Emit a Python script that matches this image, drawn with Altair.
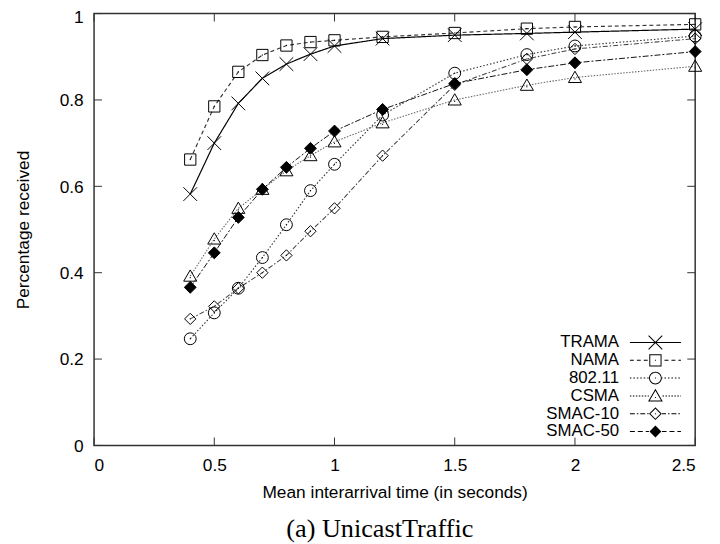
import math
import altair as alt
import pandas as pd

# ---------------- data ----------------
series = ["TRAMA", "NAMA", "802.11", "CSMA", "SMAC-10", "SMAC-50"]
x_vals = [0.4, 0.5, 0.6, 0.7, 0.8, 0.9, 1.0, 1.2, 1.5, 1.8, 2.0, 2.5]

trama = [0.582, 0.700, 0.792, 0.850, 0.883, 0.906, 0.925, 0.942, 0.950, 0.954, 0.957, 0.964]
nama = [0.662, 0.785, 0.865, 0.904, 0.926, 0.934, 0.938, 0.946, 0.955, 0.965, 0.969, 0.975]
ieee = [0.247, 0.307, 0.364, 0.435, 0.511, 0.590, 0.651, 0.765, 0.862, 0.905, 0.925, 0.948]
csma = [0.392, 0.478, 0.549, 0.593, 0.636, 0.671, 0.703, 0.747, 0.800, 0.834, 0.852, 0.878]
smac10 = [0.293, 0.322, 0.364, 0.400, 0.440, 0.496, 0.549, 0.671, 0.835, 0.895, 0.918, 0.942]
smac50 = [0.366, 0.446, 0.528, 0.593, 0.644, 0.688, 0.728, 0.778, 0.838, 0.870, 0.886, 0.912]

x_ticks = [0, 0.5, 1, 1.5, 2, 2.5]
y_ticks = [0, 0.2, 0.4, 0.6, 0.8, 1.0]

x_title = "Mean interarrival time (in seconds)"
y_title = "Percentage received"
caption = "(a) UnicastTraffic"

values = [trama, nama, ieee, csma, smac10, smac50]
rows = []
for s, vals in zip(series, values):
    for xv, yv in zip(x_vals, vals):
        rows.append({"series": s, "x": xv, "y": yv})
df = pd.DataFrame(rows)
xt = pd.DataFrame({"t": x_ticks})
yt = pd.DataFrame({"t": y_ticks})

# ---------------- marker styles (symbol paths, unit box) ----------------
DOT = "M0,-0.1V0.1"
marker_paths = [
    "M-1.15,-1.15L1.15,1.15M-1.15,1.15L1.15,-1.15",
    "M-0.95,-0.95H0.95V0.95H-0.95Z" + DOT,
    "M1,0A1,1,0,1,1,-1,0A1,1,0,1,1,1,0Z" + DOT,
    "M0,-1.05L1.1,0.85H-1.1Z" + "M0,0.15V0.35",
    "M0,-0.95L0.95,0L0,0.95L-0.95,0Z" + DOT,
    "M0,-1L1,0L0,1L-1,0Z",
]

# legend samples drawn as filled outlines (1px = 1/6 unit)
HT = 0.5 / 6.0


def poly(pts, hole=False):
    area = sum(pts[i][0] * pts[(i + 1) % len(pts)][1] - pts[(i + 1) % len(pts)][0] * pts[i][1]
               for i in range(len(pts)))
    if (area > 0) == hole:
        pts = pts[::-1]
    return "M" + "L".join("%.3f,%.3f" % p for p in pts) + "Z"


def rect(x0, y0, x1, y1):
    return poly([(x0, y0), (x1, y0), (x1, y1), (x0, y1)])


def ring(pts, center, inr):
    cx, cy = center
    ko, ki = 1 + HT / inr, 1 - HT / inr
    outer = [(cx + (x - cx) * ko, cy + (y - cy) * ko) for x, y in pts]
    inner = [(cx + (x - cx) * ki, cy + (y - cy) * ki) for x, y in pts]
    return poly(outer) + poly(inner, hole=True)


def circle_ring(r):
    ro, ri = r + HT, r - HT
    return ("M%.3f,0A%.3f,%.3f,0,1,1,%.3f,0A%.3f,%.3f,0,1,1,%.3f,0Z" % (ro, ro, ro, -ro, ro, ro, ro)
            + "M%.3f,0A%.3f,%.3f,0,1,0,%.3f,0A%.3f,%.3f,0,1,0,%.3f,0Z" % (ri, ri, ri, -ri, ri, ri, ri))


def bar(p1, p2):
    dx, dy = p2[0] - p1[0], p2[1] - p1[1]
    L = math.hypot(dx, dy)
    nx, ny = -dy / L * HT, dx / L * HT
    return poly([(p1[0] + nx, p1[1] + ny), (p2[0] + nx, p2[1] + ny),
                 (p2[0] - nx, p2[1] - ny), (p1[0] - nx, p1[1] - ny)])


dot = rect(-HT, -HT, HT, HT)
tri = [(0, -1.05), (1.1, 0.85), (-1.1, 0.85)]
dia = [(0, -0.95), (0.95, 0), (0, 0.95), (-0.95, 0)]
sq = [(-0.95, -0.95), (0.95, -0.95), (0.95, 0.95), (-0.95, 0.95)]
legend_markers = [
    bar((-1.15, -1.15), (1.15, 1.15)) + bar((-1.15, 1.15), (1.15, -1.15)),
    ring(sq, (0, 0), 0.95) + dot,
    circle_ring(1.0) + dot,
    ring(tri, (0, 0.216), 0.634) + rect(-HT, 0.2, HT, 0.35),
    ring(dia, (0, 0), 0.672) + dot,
    poly([(0, -1), (1, 0), (0, 1), (-1, 0)]),
]
legend_dash = [None, [4, 3], [1.5, 2], [1.5, 1.5], [5, 2, 1.5, 2], [5, 3]]


def dash_rects(pattern, half=4.3, gap=1.1):
    if pattern is None:
        return rect(-half, -HT, half, HT)
    segs = []
    pos = -half
    i = 0
    on = True
    while pos < half:
        seg = pattern[i % len(pattern)] / 6.0
        end = min(pos + seg, half)
        if on:
            for lo, hi in ((pos, min(end, -gap)), (max(pos, gap), end)):
                if hi > lo:
                    segs.append(rect(lo, -HT, hi, HT))
        pos = end
        on = not on
        i += 1
    return "".join(segs)


legend_paths = [m + dash_rects(d) for m, d in zip(legend_markers, legend_dash)]
fill_range = ["transparent"] * 5 + ["black"]
line_dash = [[1, 0], [4, 3], [1.5, 2], [1.5, 1.5], [5, 2, 1.5, 2], [6, 2, 2, 2]]
line_colors = ["#000000", "#333333", "#333333", "#666666", "#444444", "#111111"]
line_widths = [1.2, 1, 1, 1, 1, 1]

X0, X1 = 0, 2.5
Y0, Y1 = 0, 1
W, H = 607.7, 436.6
TLX = 8 / W * (X1 - X0)
TLY = 8 / H * (Y1 - Y0)

xscale = alt.Scale(domain=[X0, X1], nice=False, zero=False)
yscale = alt.Scale(domain=[Y0, Y1], nice=False, zero=False)

xaxis = alt.Axis(values=x_ticks, format="~g", title=x_title, labelPadding=11, titlePadding=10)
yaxis = alt.Axis(
    values=y_ticks, format="~g", title=y_title, labelPadding=11, titlePadding=27,
    labelOffset={"condition": {"test": "datum.value == 1", "value": 4.5}, "value": 1},
)

lines = alt.Chart(df).mark_line(clip=False).encode(
    x=alt.X("x:Q", scale=xscale, axis=xaxis),
    y=alt.Y("y:Q", scale=yscale, axis=yaxis),
    detail="series:N",
    color=alt.Color("series:N", scale=alt.Scale(domain=series, range=line_colors), legend=None),
    strokeDash=alt.StrokeDash("series:N", scale=alt.Scale(domain=series, range=line_dash), legend=None),
    strokeWidth=alt.StrokeWidth("series:N", scale=alt.Scale(domain=series, range=line_widths), legend=None),
)

tick_color = "#333333"
bottom_ticks = alt.Chart(xt).mark_rule(color=tick_color, strokeWidth=1).encode(
    x=alt.X("t:Q", scale=xscale, axis=xaxis), y=alt.datum(Y0), y2=alt.datum(Y0 + TLY)
)
top_ticks = alt.Chart(xt).mark_rule(color=tick_color, strokeWidth=1).encode(
    x=alt.X("t:Q", scale=xscale, axis=xaxis), y=alt.datum(Y1), y2=alt.datum(Y1 - TLY)
)
left_ticks = alt.Chart(yt).mark_rule(color=tick_color, strokeWidth=1).encode(
    y=alt.Y("t:Q", scale=yscale, axis=yaxis), x=alt.datum(X0), x2=alt.datum(X0 + TLX)
)
right_ticks = alt.Chart(yt).mark_rule(color=tick_color, strokeWidth=1).encode(
    y=alt.Y("t:Q", scale=yscale, axis=yaxis), x=alt.datum(X1), x2=alt.datum(X1 - TLX)
)

points = alt.Chart(df).transform_calculate(s2="datum.series").mark_point(
    filled=True, opacity=1, stroke="black", strokeWidth=1, size=144
).encode(
    x=alt.X("x:Q", scale=xscale, axis=xaxis),
    y=alt.Y("y:Q", scale=yscale, axis=yaxis),
    shape=alt.Shape("s2:N", scale=alt.Scale(domain=series, range=marker_paths), legend=None),
    fill=alt.Fill("s2:N", scale=alt.Scale(domain=series, range=fill_range), legend=None),
)

leg = alt.Legend(
    title=None, orient="none", legendX=559, legendY=324, direction="vertical",
    labelAlign="right", labelOffset={"expr": "-45.25"},
    labelFont="Liberation Sans", labelFontSize=17,
    labelColor="black", symbolSize=144, symbolStrokeWidth=0,
    rowPadding=0, padding=0, labelLimit=300,
)

legend_layer = alt.Chart(df).transform_filter("datum.y < 0").mark_point(
    filled=True, color="black", opacity=1, size=144
).encode(
    x=alt.X("x:Q", scale=xscale, axis=xaxis),
    y=alt.Y("y:Q", scale=yscale, axis=yaxis),
    shape=alt.Shape("series:N", scale=alt.Scale(domain=series, range=legend_paths), legend=leg),
)

chart = alt.layer(
    lines, bottom_ticks, top_ticks, left_ticks, right_ticks, points, legend_layer
).resolve_scale(
    shape="independent"
).properties(
    width=W, height=H,
    title=alt.TitleParams(
        caption, orient="bottom", anchor="middle", font="Liberation Serif", fontSize=26.5,
        fontWeight="normal", color="black", offset=16, dx=-15,
    ),
    autosize=alt.AutoSizeParams(type="none"),
    padding={"left": 87, "top": 2.7, "right": 17, "bottom": 96},
).configure_view(
    stroke="#333333", strokeWidth=1.5
).configure_axis(
    domain=False, ticks=False, tickSize=0, grid=False,
    labelFont="Liberation Sans", labelFontSize=17.5, labelColor="black",
    titleFont="Liberation Sans", titleFontSize=17.5, titleFontWeight="normal", titleColor="black",
)

chart.save("out.html", embed_options={"renderer": "svg", "actions": False})
